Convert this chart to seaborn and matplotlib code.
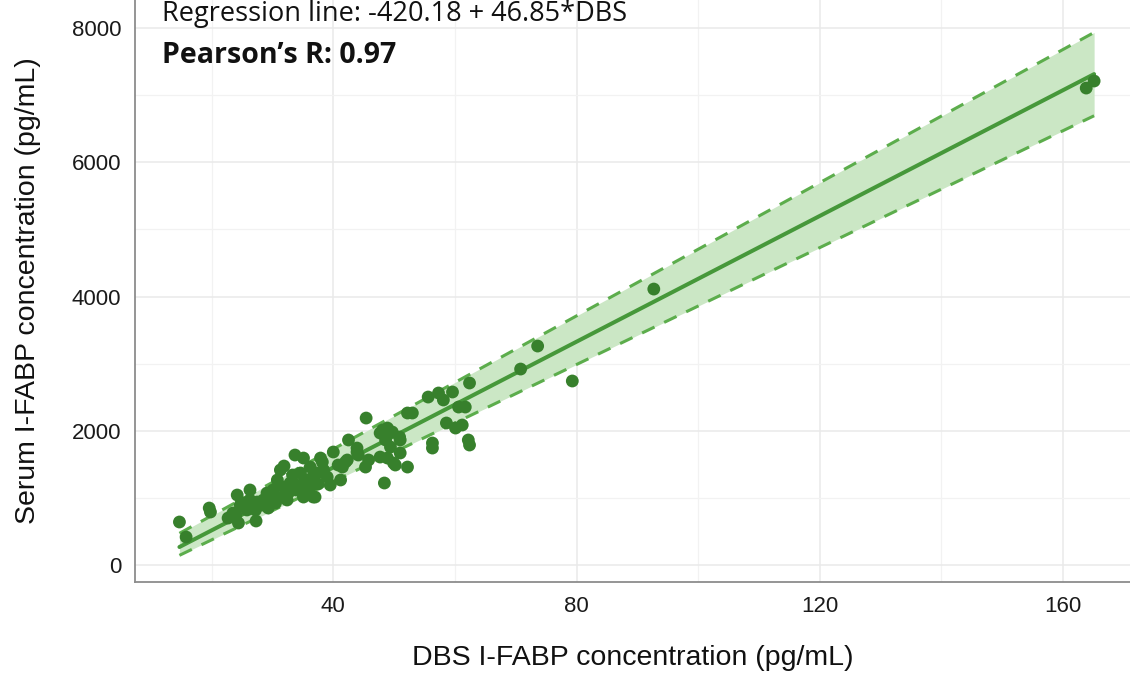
import numpy as np
import pandas as pd
import matplotlib
matplotlib.use("Agg")
import matplotlib.pyplot as plt
from matplotlib.ticker import MultipleLocator
import seaborn as sns

# Paired I-FABP measurements: dried blood spot (DBS) vs serum, pg/mL
dbs = [14.7, 15.8, 19.6, 19.8, 24.2, 24.4, 27.3, 23.5, 25.2, 26.3,
       27.5, 28.5, 29.6, 30.1, 31.3, 30.8, 31.8, 32.9, 33.7, 35.1,
       34.6, 35.7, 36.7, 35.1, 36.2, 37.9, 37.4, 38.4, 39.0, 40.0,
       41.2, 41.5, 42.5, 42.3, 43.9, 44.1, 45.4, 45.3, 47.7, 48.1,
       48.9, 48.4, 48.6, 49.4, 48.9, 50.2, 50.9, 51.0, 52.2, 53.0,
       55.6, 56.3, 56.3, 57.3, 58.1, 59.6, 60.6, 61.7, 58.6, 60.1,
       61.2, 62.4, 62.2, 62.4, 70.8, 73.6, 79.3, 92.7, 163.8, 165.1,
       40.8, 42.0, 32.4, 29.1, 33.4, 35.1, 37.0, 36.2, 49.9, 52.2,
       25.8, 24.7, 27.2, 28.3, 29.3, 30.5, 31.6, 32.6, 33.9, 34.6,
       35.6, 36.5, 37.5, 38.2, 22.7, 24.0, 26.3, 31.9, 39.5, 33.3,
       43.9, 45.8, 47.7, 49.7, 51.0]
serum = [641, 417, 849, 790, 1043, 626, 656, 775, 924, 969,
         939, 969, 1013, 1118, 1416, 1267, 1162, 1222, 1639, 1594,
         1371, 1267, 1013, 1043, 1460, 1594, 1371, 1416, 1311, 1684,
         1267, 1460, 1863, 1565, 1743, 1639, 2190, 1460, 1967, 2012,
         2041, 1222, 1863, 1758, 1594, 1490, 1907, 1669, 1460, 2265,
         2503, 1818, 1743, 2563, 2459, 2578, 2354, 2354, 2116, 2041,
         2086, 2712, 1863, 1788, 2920, 3263, 2742, 4112, 7107, 7212,
         1490, 1535, 969, 1073, 1222, 1013, 1013, 1162, 1520, 2265,
         820, 894, 820, 894, 849, 924, 1013, 1073, 1118, 1192,
         1118, 1296, 1207, 1535, 700, 745, 1118, 1475, 1192, 1341,
         1684, 1565, 1609, 1982, 1863]

# Fitted regression line and the bounding lines of the shaded band
fit_intercept, fit_slope = -420.18, 46.85
band_upper = (-257.0, 49.62)   # intercept, slope
band_lower = (-496.0, 43.55)
pearson_r = 0.97

x_ticks = [40, 80, 120, 160]
y_ticks = [0, 2000, 4000, 6000, 8000]

df = pd.DataFrame({"DBS": dbs, "Serum": serum})

point_col = "#37802c"
line_col = "#46983a"
dash_col = "#5cad4c"
band_col = "#cbe7c5"

sns.set_style("white")
plt.rcParams["font.family"] = ["Liberation Sans", "DejaVu Sans"]

fig = plt.figure(figsize=(11.30, 6.74), dpi=100)
ax = fig.add_axes([0.1195, 0.1365, 0.8805, 0.8635])

xs = np.linspace(min(dbs), max(dbs), 200)
fit = fit_intercept + fit_slope * xs
upper = band_upper[0] + band_upper[1] * xs
lower = band_lower[0] + band_lower[1] * xs

ax.fill_between(xs, lower, upper, color=band_col, lw=0, zorder=1)
sns.lineplot(x=xs, y=upper, ax=ax, color=dash_col, lw=2.2,
             zorder=2).lines[-1].set_dashes([4.5, 3.5])
sns.lineplot(x=xs, y=lower, ax=ax, color=dash_col, lw=2.2,
             zorder=2).lines[-1].set_dashes([4.5, 3.5])
sns.lineplot(x=xs, y=fit, ax=ax, color=line_col, lw=2.9, zorder=3)
sns.scatterplot(data=df, x="DBS", y="Serum", ax=ax, color=point_col,
                s=85, edgecolor="none", linewidth=0, zorder=4)

ax.set_xlim(7.4, 171.0)
ax.set_ylim(-253, 8419)
ax.set_xticks(x_ticks)
ax.set_yticks(y_ticks)
ax.xaxis.set_minor_locator(MultipleLocator(20))
ax.yaxis.set_minor_locator(MultipleLocator(1000))

ax.grid(which="major", color="#e9e9e9", lw=1.1)
ax.grid(which="minor", color="#f2f2f2", lw=0.9)
ax.set_axisbelow(True)

for side in ["top", "right"]:
    ax.spines[side].set_visible(False)
for side in ["left", "bottom"]:
    ax.spines[side].set_color("#8c8c8c")
    ax.spines[side].set_linewidth(1.3)

ax.tick_params(axis="both", which="major", direction="out", length=4,
               width=1.1, color="#333333", labelsize=16,
               labelcolor="#1a1a1a", pad=6)
ax.tick_params(axis="both", which="minor", length=0)

ax.set_xlabel("DBS I-FABP concentration (pg/mL)", fontsize=20.5,
              color="#111111", labelpad=20)
ax.set_ylabel("Serum I-FABP concentration (pg/mL)", fontsize=20.5,
              color="#111111", labelpad=22)

ax.text(11.9, 8215, f"Regression line: {fit_intercept:.2f} + {fit_slope:.2f}*DBS",
        fontsize=19.5, family=["Open Sans", "DejaVu Sans"], color="#111111",
        va="center", ha="left", clip_on=False)
ax.text(11.9, 7590, f"Pearson\u2019s R: {pearson_r:.2f}",
        fontsize=20.5, family=["Open Sans", "DejaVu Sans"], fontweight="bold",
        color="#111111", va="center", ha="left", clip_on=False)

fig.savefig("out.png", dpi=100)
